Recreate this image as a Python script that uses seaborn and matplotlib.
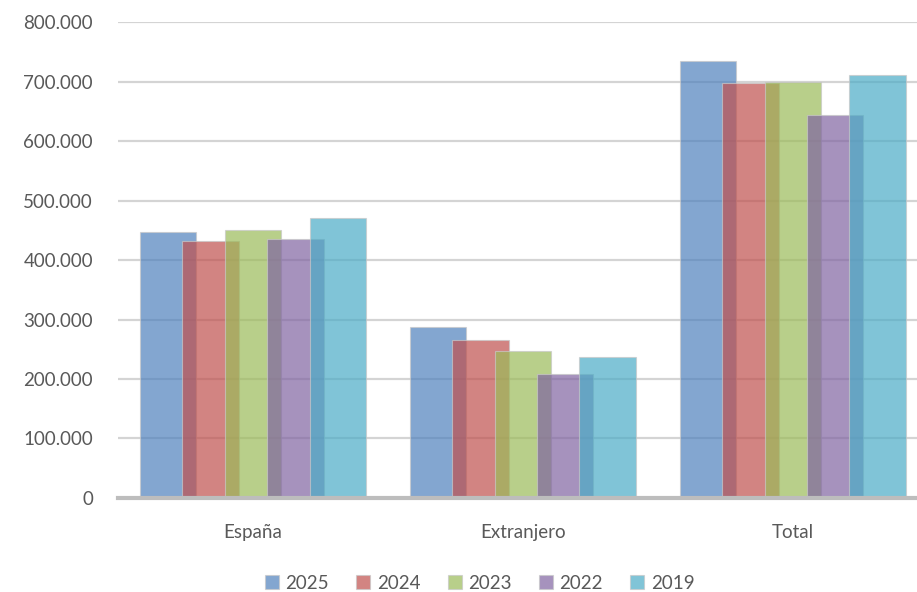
import numpy as np
import pandas as pd
import matplotlib.pyplot as plt
import seaborn as sns
from matplotlib.ticker import FuncFormatter

categorias = ["España", "Extranjero", "Total"]
anios = ["2025", "2024", "2023", "2022", "2019"]
v2025 = [447000, 287000, 734000]
v2024 = [432000, 266000, 697000]
v2023 = [450000, 247000, 699000]
v2022 = [435000, 208000, 644000]
v2019 = [470000, 237000, 711000]
colores = ["#4F81BD", "#C0504D", "#9BBB59", "#8064A2", "#4BACC6"]

series = [v2025, v2024, v2023, v2022, v2019]
df = pd.DataFrame(
    [(c, a, v[i]) for a, v in zip(anios, series) for i, c in enumerate(categorias)],
    columns=["categoria", "anio", "valor"],
)

sns.set_style("white")
plt.rcParams["font.family"] = ["Lato", "DejaVu Sans"]

fig = plt.figure(figsize=(9.17, 5.92), dpi=100)
ax = fig.add_axes([0.1287, 0.1588, 0.8713, 0.804])

sns.barplot(
    data=df, x="categoria", y="valor", hue="anio", hue_order=anios,
    palette=colores, width=0.785, alpha=0.7, ax=ax,
    edgecolor="#C8C8C8", linewidth=0.8, saturation=1,
)

# Excel-style overlapping bars: widen each bar around its centre
ancho = 0.209
for p in ax.patches:
    if p.get_height() > 0:
        cx = p.get_x() + p.get_width() / 2
        p.set_x(cx - ancho / 2)
        p.set_width(ancho)

ax.set_ylim(0, 800000)
ax.set_xlim(-0.5, 2.46)
ax.set_yticks(np.arange(0, 800001, 100000))
ax.yaxis.set_major_formatter(
    FuncFormatter(lambda v, _: f"{int(v):,}".replace(",", "."))
)
ax.grid(axis="y", color="#D4D4D4", linewidth=1.6)
ax.set_axisbelow(True)
for s in ["top", "right", "left"]:
    ax.spines[s].set_visible(False)
ax.spines["bottom"].set_color("#BDBDBD")
ax.spines["bottom"].set_linewidth(3)
ax.set_xlabel("")
ax.set_ylabel("")
ax.tick_params(axis="y", length=0, pad=18, labelsize=13.5, labelcolor="#595959")
ax.tick_params(axis="x", length=0, pad=19, labelsize=13.5, labelcolor="#595959")

handles, labels = ax.get_legend_handles_labels()
ax.get_legend().remove()
fig.legend(
    handles, labels, loc="center", bbox_to_anchor=(0.523, 0.015), ncol=5,
    frameon=False, fontsize=13.5, handlelength=0.75, handleheight=0.75,
    handletextpad=0.35, columnspacing=1.45, labelcolor="#595959",
)

fig.savefig("out.png", dpi=100)
